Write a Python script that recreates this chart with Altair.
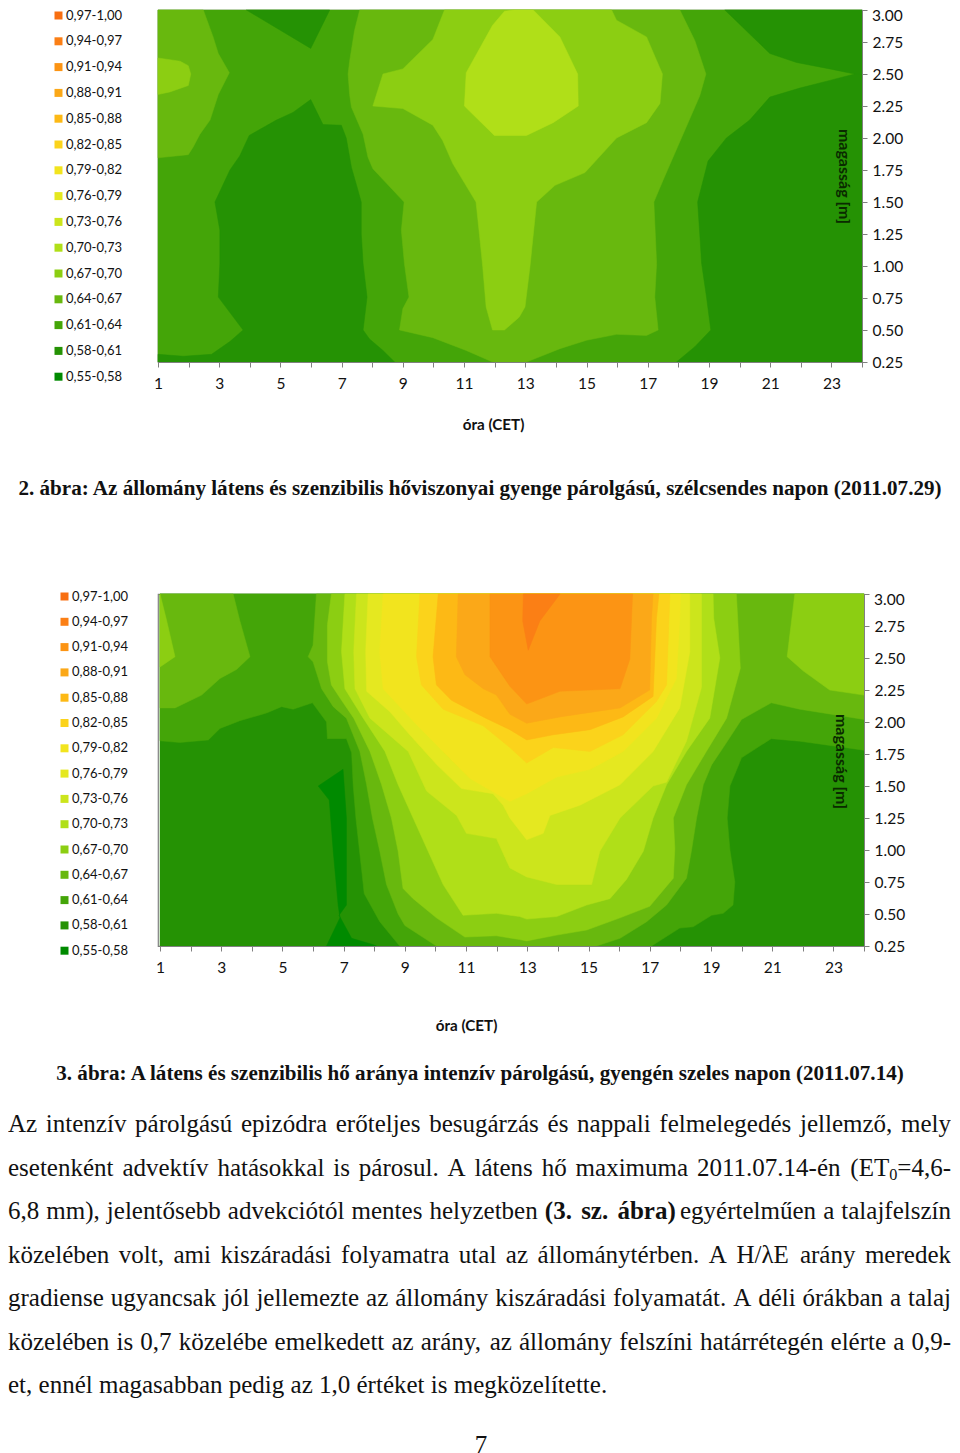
import unicodedata
import altair as alt
import pandas as pd

LEVELS = ["0,97-1,00", "0,94-0,97", "0,91-0,94", "0,88-0,91", "0,85-0,88", "0,82-0,85", "0,79-0,82", "0,76-0,79",
          "0,73-0,76", "0,70-0,73", "0,67-0,70", "0,64-0,67", "0,61-0,64", "0,58-0,61", "0,55-0,58"]
COLORS = ["#f86f12", "#fb7f15", "#fc9414", "#fba818", "#fdb915", "#fbd31b", "#f2e41e", "#e5e820",
          "#cce51c", "#b0df18", "#8cce12", "#68b80e", "#44a508", "#259204", "#008a00"]
HOURS = list(range(1, 25))
HEIGHTS = [0.25, 0.5, 0.75, 1.0, 1.25, 1.5, 1.75, 2.0, 2.25, 2.5, 2.75, 3.0]

# ---- first chart: contour regions as (hour, height) outlines, painted from low to high
a_base = [(1, .25), (24, .25), (24, 3), (1, 3)]
a_dark_top = [(3.89, 3), (6.61, 3), (5.99, 2.70)]
a_dark_mid = [(5.99, 2.30), (6.39, 2.105), (6.99, 2.10), (7.15, 2.0), (7.32, 1.77), (7.5, 1.62), (7.64, 1.5), (7.64, 1.25),
              (7.70, 1.02), (7.83, .757), (7.70, .5), (7.91, .43), (8.35, .34), (8.73, .25), (1, .25), (1, .31), (1.83, .295),
              (2.75, .31), (3.35, .41), (3.78, .5), (2.97, .757), (3.02, 1.02), (3.02, 1.28), (2.86, 1.5), (3.35, 1.75),
              (3.67, 1.86), (3.98, 2.02), (4.87, 2.14), (5.41, 2.2)]
a_dark_rtop = [(19.52, 3), (24, 3), (24, 2.5), (23.76, 2.5), (22.95, 2.54), (21.86, 2.59), (20.99, 2.66)]
a_dark_rlow = [(23.76, 2.5), (24, 2.5), (24, .25), (17.94, .25), (18.54, .37), (19.06, .5), (18.92, .757), (18.76, 1.02),
               (18.7, 1.25), (18.63, 1.5), (18.97, 1.82), (19.57, 2.0), (20.33, 2.14), (20.99, 2.32), (21.97, 2.39), (22.95, 2.45)]
a_l3_left = [(1, 3), (2.48, 3), (2.80, 2.79), (2.97, 2.66), (3.33, 2.51), (2.97, 2.34), (2.70, 2.14), (2.37, 2.03), (2.15, 1.93),
             (1.99, 1.87), (1, 1.845)]
a_l4_left = [(1, 2.625), (1.72, 2.60), (1.99, 2.565), (2.07, 2.50), (1.99, 2.41), (1.39, 2.36), (1, 2.34)]
a_l3_mid = [(7.59, 3), (7.42, 2.84), (7.26, 2.6), (7.21, 2.5), (7.26, 2.34), (7.32, 2.24), (7.70, 2.03), (7.86, 1.85), (8.02, 1.76),
            (9.04, 1.5), (8.95, 1.28), (9.05, 1.02), (9.20, .757), (9.0, .667), (8.89, .5), (9.98, .44), (11.07, .34), (11.93, .25),
            (13.04, .25), (14.13, .354), (15.0, .42), (15.98, .466), (16.96, .458), (17.34, .5), (17.23, .757), (17.29, 1.02),
            (17.2, 1.5), (17.5, 1.67), (18.1, 2.0), (18.7, 2.33), (18.9, 2.5), (18.54, 2.76), (18.05, 3)]
a_l4_mid = [(10.36, 3), (9.98, 2.77), (9.0, 2.54), (8.35, 2.5), (8.02, 2.25), (9.0, 2.23), (9.98, 2.10), (10.3, 1.98), (10.63, 1.8),
            (11.39, 1.5), (11.5, 1.25), (11.61, .99), (11.72, .68), (11.93, .5), (12.32, .5), (12.8, .6), (12.99, .68), (13.15, .99),
            (13.37, 1.5), (13.97, 1.63), (14.95, 1.73), (15.98, 2.0), (16.96, 2.12), (17.4, 2.27), (17.48, 2.5), (16.96, 2.79),
            (15.98, 2.92), (15.82, 3)]
a_l5_mid = [(12.6, 3), (12.32, 2.99), (11.93, 2.88), (11.07, 2.51), (11.01, 2.25), (11.99, 2.02), (13.04, 2.02), (13.91, 2.12),
            (14.73, 2.25), (14.71, 2.5), (14.13, 2.79), (13.26, 3)]
CHART_A = [("0,61-0,64", a_base), ("0,58-0,61", a_dark_top), ("0,58-0,61", a_dark_mid), ("0,58-0,61", a_dark_rtop),
           ("0,58-0,61", a_dark_rlow), ("0,64-0,67", a_l3_left), ("0,67-0,70", a_l4_left), ("0,64-0,67", a_l3_mid),
           ("0,67-0,70", a_l4_mid), ("0,70-0,73", a_l5_mid)]

# ---- second chart
b_base = [(1, .25), (24, .25), (24, 3), (1, 3)]
b_l0 = [(6.17, 1.5), (6.98, 1.63), (7.09, 1.25), (7.09, .57), (6.85, .49), (7.26, .31), (7.97, .26), (8.07, .25), (6.44, .25),
        (6.88, .47), (6.82, .57), (6.66, .99), (6.53, 1.39)]
b_l2 = [(1, 1.853), (1.65, 1.84), (2.58, 1.86), (2.96, 1.95), (3.61, 2.01), (4.48, 2.07), (4.97, 2.12), (5.35, 2.10), (5.98, 2.15),
        (6.44, 2.0), (6.47, 1.87), (7.09, 1.87), (7.26, 1.76), (7.31, 1.51), (7.4, 1.25), (7.64, .73), (7.67, .66), (8.18, .44),
        (8.83, .25), (17.06, .25), (17.98, .39), (18.42, .40), (19.02, .49), (19.4, .505), (19.72, .57), (19.78, .75), (19.62, 1.0),
        (19.53, 1.25), (19.62, 1.5), (20, 1.72), (20.97, 1.87), (21.9, 1.85), (24, 1.78), (24, 3), (1, 3)]
b_l3_left = [(1, 3), (3.39, 3), (3.61, 2.79), (3.94, 2.51), (3.50, 2.41), (2.96, 2.34), (2.36, 2.21), (1.49, 2.11), (1, 2.11)]
b_l4_left = [(1, 3), (1.22, 2.79), (1.49, 2.51), (1, 2.43)]
b_l3 = [(6.11, 3), (6.0, 2.6), (5.84, 2.51), (6.0, 2.47), (6.28, 2.26), (6.66, 2.12), (7.09, 2.03), (7.53, 1.77), (7.75, 1.51),
        (7.94, 1.25), (8.18, .99), (8.4, .73), (8.78, .5), (9.0, .41), (10.03, .25), (15.26, .25), (16.03, .31), (16.9, .44),
        (17.55, .57), (18.2, .78), (18.36, .99), (18.53, 1.25), (18.75, 1.51), (19.02, 1.665), (19.4, 1.8), (20, 2.02),
        (20.97, 2.15), (21.9, 2.10), (24, 2.02), (24, 3)]
b_l4 = [(6.6, 3), (6.47, 2.76), (6.47, 2.47), (6.6, 2.29), (6.93, 2.17), (7.33, 2.03), (7.86, 1.77), (8.24, 1.51), (8.56, 1.25),
        (8.78, .99), (8.94, .70), (9.27, .62), (10.03, .47), (10.96, .32), (11.99, .33), (12.75, .3), (12.98, .29), (13.96, .335),
        (14.94, .375), (16.03, .47), (17, .56), (17.77, .78), (17.82, 1.01), (17.77, 1.25), (18.2, 1.51), (18.85, 1.77),
        (19.51, 2.03), (19.96, 2.42), (19.83, 3)]
b_l4_right = [(21.74, 3), (21.49, 2.51), (22.01, 2.4), (22.88, 2.25), (24, 2.21), (24, 3)]
b_l5 = [(7.04, 3), (6.93, 2.55), (7.04, 2.26), (7.64, 2.03), (8.35, 1.77), (8.78, 1.51), (9.27, 1.25), (9.76, .99), (10.25, .73),
        (10.9, .49), (11.99, .505), (12.75, .48), (12.98, .46), (13.96, .48), (14.94, .57), (15.7, .62), (16.24, .77), (16.79, .99),
        (17.11, 1.25), (17.55, 1.51), (18.2, 1.77), (18.96, 2.03), (19.29, 2.5), (19.09, 2.81), (19.07, 3)]
b_l6 = [(7.42, 3), (7.33, 2.55), (7.37, 2.26), (7.86, 2.03), (9.11, 1.77), (9.71, 1.46), (10.69, 1.27), (11.01, 1.13), (11.99, 1.09),
        (12.43, .86), (12.98, .79), (13.96, .73), (15.1, .73), (15.37, .99), (16.03, 1.25), (17.11, 1.5), (17.55, 1.53), (18.2, 1.85),
        (18.69, 2.27), (18.69, 3)]
b_l7 = [(7.8, 3), (7.72, 2.55), (7.75, 2.24), (8.51, 2.08), (9.16, 1.90), (10.03, 1.67), (10.85, 1.48), (11.88, 1.44), (12.21, 1.35),
        (12.43, 1.25), (12.98, 1.08), (13.52, 1.13), (13.74, 1.27), (14.72, 1.35), (16.03, 1.51), (17.11, 1.77), (17.98, 2.11),
        (18.31, 2.55), (18.31, 3)]
b_l8 = [(8.29, 3), (8.18, 2.55), (8.29, 2.26), (9.38, 1.98), (10.25, 1.77), (11.12, 1.56), (11.99, 1.44), (12.43, 1.38), (12.98, 1.44),
        (13.96, 1.57), (15.05, 1.63), (16.13, 1.77), (17.22, 2.03), (17.87, 2.34), (17.98, 2.81), (18, 3)]
b_l9 = [(9.49, 3), (9.38, 2.51), (9.54, 2.29), (10.25, 2.1), (11.56, 1.97), (12.43, 1.80), (12.98, 1.68), (13.85, 1.80), (15.05, 1.77),
        (16.13, 1.90), (17.22, 2.16), (17.55, 2.29), (17.63, 2.81), (17.66, 3)]
b_l10 = [(10.09, 3), (9.92, 2.51), (10.03, 2.29), (10.52, 2.17), (11.56, 2.04), (12.43, 1.94), (12.98, 1.86), (13.85, 1.90),
         (15.05, 1.94), (16.13, 2.04), (17.11, 2.2), (17.22, 2.81), (17.3, 3)]
b_l11 = [(10.74, 3), (10.68, 2.51), (10.96, 2.37), (11.56, 2.26), (11.99, 2.21), (12.43, 2.06), (12.98, 1.99), (14.07, 2.04),
         (16.03, 2.11), (17, 2.25), (17.06, 2.81), (17.11, 3)]
b_l12 = [(11.78, 3), (11.78, 2.51), (12.43, 2.28), (12.98, 2.14), (14.07, 2.24), (16.03, 2.26), (16.35, 2.49), (16.44, 3)]
b_l13 = [(12.87, 3), (14.07, 3), (13.41, 2.79), (13.03, 2.56), (12.85, 2.79)]
CHART_B = [("0,58-0,61", b_base), ("0,55-0,58", b_l0), ("0,61-0,64", b_l2), ("0,64-0,67", b_l3_left), ("0,67-0,70", b_l4_left),
           ("0,64-0,67", b_l3), ("0,67-0,70", b_l4), ("0,67-0,70", b_l4_right), ("0,70-0,73", b_l5), ("0,73-0,76", b_l6),
           ("0,76-0,79", b_l7), ("0,79-0,82", b_l8), ("0,82-0,85", b_l9), ("0,85-0,88", b_l10), ("0,88-0,91", b_l11),
           ("0,91-0,94", b_l12), ("0,94-0,97", b_l13)]

# ---- page text
CAPTIONS = [("2. ábra: Az állomány látens és szenzibilis hőviszonyai gyenge párolgású, szélcsendes napon (2011.07.29)", 495),
            ("3. ábra: A látens és szenzibilis hő aránya intenzív párolgású, gyengén szeles napon (2011.07.14)", 1080)]
BODY = ["Az intenzív párolgású epizódra erőteljes besugárzás és nappali felmelegedés jellemző, mely",
        "esetenként advektív hatásokkal is párosul. A látens hő maximuma 2011.07.14-én (ET~0~=4,6-",
        "6,8 mm), jelentősebb advekciótól mentes helyzetben *(3. *sz. *ábra) egyértelműen a talajfelszín",
        "közelében volt, ami kiszáradási folyamatra utal az állománytérben. A H/λE arány meredek",
        "gradiense ugyancsak jól jellemezte az állomány kiszáradási folyamatát. A déli órákban a talaj",
        "közelében is 0,7 közelébe emelkedett az arány, az állomány felszíni határrétegén elérte a 0,9-",
        "et, ennél magasabban pedig az 1,0 értéket is megközelítette."]
BODY_BASE = [1132, 1175.5, 1219, 1262.5, 1306, 1349.5, 1393]
PAGE_NUMBER = "7"

SIZE = 25.0
BOLD_FACTOR = 1.08
TIMES = dict(zip("abcdefghijklmnopqrstuvwxyz",
                 [444, 500, 444, 500, 444, 333, 500, 500, 278, 278, 500, 278, 778, 500, 500, 500, 500, 333, 389, 278, 500, 500, 722, 500, 500, 444]))
TIMES.update(dict(zip("ABCDEFGHIJKLMNOPQRSTUVWXYZ",
                      [722, 667, 667, 722, 611, 556, 722, 722, 333, 389, 722, 611, 889, 722, 722, 556, 722, 667, 556, 611, 722, 722, 944, 722, 722, 611])))
TIMES.update({",": 250, ".": 250, "-": 333, "(": 333, ")": 333, "=": 564, "/": 278, "λ": 550})


def text_width(s, size):
    total = 0
    for c in s:
        base = unicodedata.normalize("NFD", c)[0]
        total += TIMES.get(base, 500)
    return total * size / 1000


def body_rows():
    PAGE_L, PAGE_R, PLOT_L, PANEL_T = 8, 951, 158, PANEL_C_TOP
    rows = []
    for n, (line, base) in enumerate(zip(BODY, BODY_BASE)):
        words = []
        for w in line.split(" "):
            bold = w.startswith("*")
            w = w.lstrip("*")
            parts = w.split("~")
            pieces = [(p, bold, k % 2 == 1) for k, p in enumerate(parts) if p]
            width = sum(text_width(p, SIZE * (0.65 if sub else 1)) * (BOLD_FACTOR if b else 1) for p, b, sub in pieces)
            words.append((pieces, width))
        total = sum(w for _, w in words)
        gap = 0.25 * SIZE if n == len(BODY) - 1 else (PAGE_R - PAGE_L - total) / (len(words) - 1)
        x = PAGE_L
        for pieces, width in words:
            for p, b, sub in pieces:
                s = SIZE * (0.65 if sub else 1)
                rows.append(dict(x=x - PLOT_L, y=base - PANEL_T + (4 if sub else 0), text=p,
                                 style="bold" if b else ("sub" if sub else "plain"), s=s))
                x += text_width(p, s) * (BOLD_FACTOR if b else 1)
            x += gap
    return pd.DataFrame(rows)


def outline_frame(polys):
    rows = []
    for k, (band, pts) in enumerate(polys):
        for i, (h, v) in enumerate(pts):
            rows.append(dict(hour=h, height=v, band=band, piece=k, i=i))
    return pd.DataFrame(rows)


LABEL_FONT = "Lato"
color_scale = alt.Scale(domain=LEVELS, range=COLORS)


def panel(polys, width, xrange, legend_x, legend_y, row_pad, title_x, y_title_x, y_title_y, title_y):
    x = alt.X("hour:Q", scale=alt.Scale(domain=[1, 24], range=xrange, nice=False, zero=False),
              axis=alt.Axis(values=HOURS, labelExpr="datum.value % 2 == 1 ? datum.value : ''", labelFont=LABEL_FONT,
                            labelFontSize=15.5, labelColor="#111", labelPadding=9, labelFlush=False, tickSize=5,
                            tickColor="#808080", domainColor="#808080", domainWidth=1.2, grid=False, title="óra (CET)",
                            titleFont=LABEL_FONT, titleFontSize=15.2, titleFontWeight="bold", titleColor="#111",
                            titleX=title_x, titleY=title_y, labelOverlap=False, zindex=1))
    y = alt.Y("height:Q", scale=alt.Scale(domain=[0.25, 3], nice=False, zero=False),
              axis=alt.Axis(orient="right", values=HEIGHTS, format=".2f", labelFont=LABEL_FONT, labelFontSize=15.5, labelColor="#111",
                            labelOpacity=alt.condition("datum.value == 3", alt.value(0), alt.value(1)), labelOverlap=False,
                            labelPadding=5, labelFlush=False, tickSize=5, tickColor="#808080", domainColor="#808080", grid=False,
                            title="magasság [m]", titleAngle=90, titleFont=LABEL_FONT, titleFontSize=16, titleFontWeight="bold",
                            titleColor="#0a2a00", titleX=y_title_x, titleY=y_title_y, titleAnchor="middle", zindex=1))
    shapes = alt.Chart(outline_frame(polys)).mark_line(interpolate="linear-closed", strokeWidth=0.5, clip=False).encode(
        x=x, y=y, order=alt.Order("i:Q"), detail="piece:N",
        fill=alt.Fill("band:N", scale=color_scale,
                      legend=alt.Legend(orient="none", legendX=legend_x, legendY=legend_y, title=None, symbolType="square",
                                        symbolSize=64, symbolStrokeWidth=0, labelFont=LABEL_FONT, labelFontSize=13, labelColor="#111",
                                        rowPadding=row_pad, labelOffset=1, values=LEVELS)),
        stroke=alt.Stroke("band:N", scale=color_scale, legend=None))
    top_label = alt.Chart(pd.DataFrame({"label": ["3.00"], "hour": [24], "height": [3]})).mark_text(
        align="left", baseline="middle", dx=10, dy=6, font=LABEL_FONT, fontSize=15.5, color="#111").encode(
        x=x, y=y, text="label:N")
    return alt.layer(shapes, top_label).properties(width=width, height=352, view=alt.ViewBackground(stroke="#808080", strokeWidth=1.2))


PANEL_GAP = 232
PANEL_C_TOP = 946 + PANEL_GAP

chart_a = panel(CHART_A, 704, [0, 704], -106, -1, 11.8, 335, -27, 166, 55)
chart_b = panel(CHART_B, 706, [2, 706], -100, -4, 11.3, 308, -32, 167, 72)

body = body_rows()
cap = pd.DataFrame({"x": [480 - 158] * 2, "y": [c[1] - PANEL_C_TOP for c in CAPTIONS], "text": [c[0] for c in CAPTIONS]})
page = pd.DataFrame({"x": [481 - 158], "y": [1453 - PANEL_C_TOP], "text": [PAGE_NUMBER]})
px = alt.X("x:Q", scale=None, axis=None)
py = alt.Y("y:Q", scale=None, axis=None)
text_layers = [
    alt.Chart(cap).mark_text(font="Liberation Serif", fontSize=21.1, fontWeight="bold", align="center", baseline="alphabetic", color="#111").encode(x=px, y=py, text="text:N"),
    alt.Chart(page).mark_text(font="Liberation Serif", fontSize=SIZE, align="center", baseline="alphabetic", color="#111").encode(x=px, y=py, text="text:N"),
    alt.Chart(body[body["style"] == "plain"]).mark_text(font="Liberation Serif", fontSize=SIZE, align="left", baseline="alphabetic", color="#111").encode(x=px, y=py, text="text:N"),
    alt.Chart(body[body["style"] == "bold"]).mark_text(font="Liberation Serif", fontSize=SIZE, fontWeight="bold", align="left", baseline="alphabetic", color="#111").encode(x=px, y=py, text="text:N"),
    alt.Chart(body[body["style"] == "sub"]).mark_text(font="Liberation Serif", fontSize=SIZE * 0.65, align="left", baseline="alphabetic", color="#111").encode(x=px, y=py, text="text:N"),
]
chart_c = alt.layer(*text_layers).properties(width=1, height=1, view=alt.ViewBackground(stroke=None))

chart = alt.vconcat(chart_a, chart_b, chart_c, spacing=PANEL_GAP, bounds="flush").resolve_scale(
    fill="independent", stroke="independent").resolve_legend(fill="independent", stroke="independent").properties(
    padding={"left": 0, "top": -6, "right": -1, "bottom": 0},
    background="white").configure_axis(labelOverlap=False)
chart.save("out.html", embed_options={"renderer": "svg", "actions": False})
